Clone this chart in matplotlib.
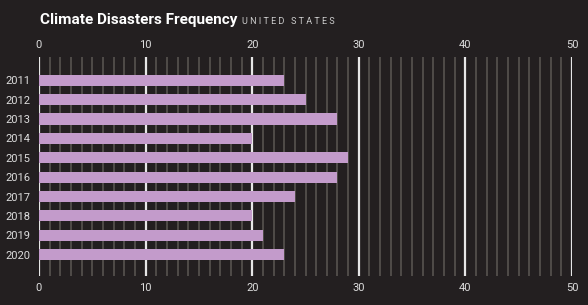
import matplotlib
matplotlib.use("Agg")
import matplotlib.pyplot as plt
from matplotlib.ticker import MultipleLocator

years = ["2011", "2012", "2013", "2014", "2015", "2016", "2017", "2018", "2019", "2020"]
disasters = [23, 25, 28, 20, 29, 28, 24, 20, 21, 23]
x_ticks = [0, 10, 20, 30, 40, 50]

bg = "#231f20"
bar_col = "#c39bcb"
font = ["Roboto", "DejaVu Sans"]

fig = plt.figure(figsize=(5.88, 3.05), dpi=100, facecolor=bg)
ax = fig.add_axes([39 / 588, 1 - 276 / 305, 533 / 588, 219 / 305])
ax.set_facecolor(bg)

ypos = list(range(len(years)))
ax.barh(ypos, disasters, height=0.57, color=bar_col, zorder=3)

ax.set_xlim(0, 50)
ax.set_ylim(10.1, -1.2)
ax.xaxis.set_minor_locator(MultipleLocator(1))
ax.set_xticks(x_ticks)
ax.grid(axis="x", which="minor", color="#57534f", linewidth=1.2, zorder=1)
ax.grid(axis="x", which="major", color="#e6e6e6", linewidth=1.6, zorder=2)
for s in ax.spines.values():
    s.set_visible(False)

ax.tick_params(axis="x", which="both", length=0, top=True, labeltop=True,
               labelsize=8, labelcolor="#dddddd", pad=5)
ax.set_yticks(ypos)
ax.set_yticklabels(years)
ax.tick_params(axis="y", length=0, labelsize=8, labelcolor="#dddddd", pad=6)
for lab in ax.get_xticklabels() + ax.get_yticklabels():
    lab.set_family(font)

title = fig.text(40 / 588, 1 - 24 / 305, "Climate Disasters Frequency", color="white",
                 fontsize=11, fontweight="bold", family=font, va="baseline")
fig.canvas.draw()
bb = title.get_window_extent()
fig.text((bb.x1 + 5) / 588, 1 - 24 / 305, "U N I T E D   S T A T E S", color="#cccccc",
         fontsize=6.5, family=font, va="baseline")

fig.savefig("out.png", dpi=100, facecolor=bg)
